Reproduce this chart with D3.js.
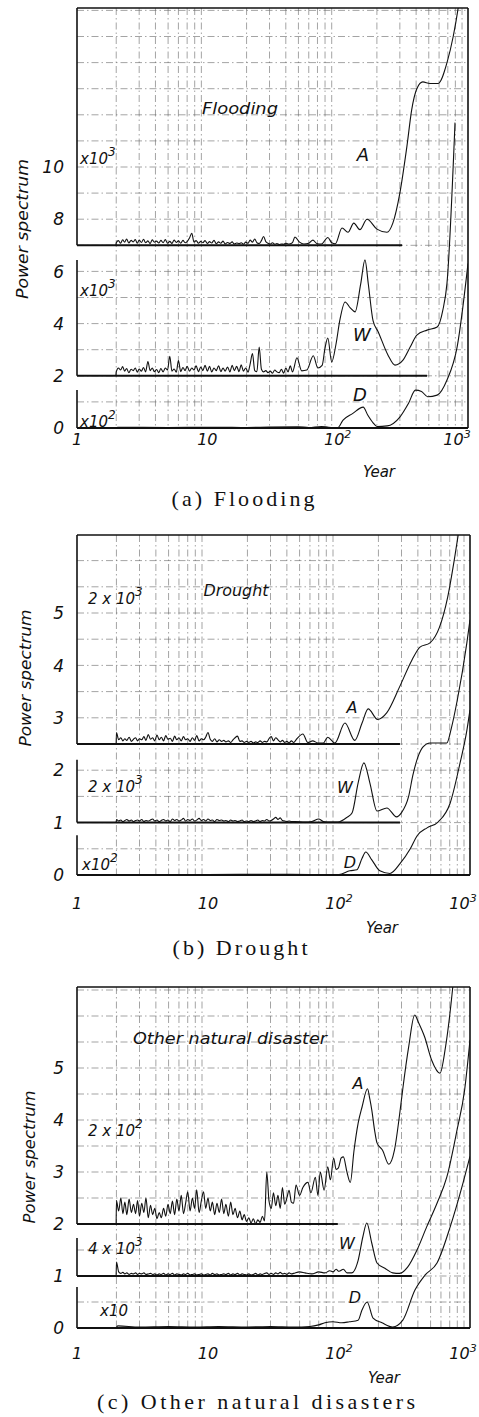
<!DOCTYPE html>
<html><head><meta charset="utf-8">
<script src="https://cdn.jsdelivr.net/npm/d3@7"></script>
<style>
html,body{margin:0;padding:0;background:#fff;}
svg{display:block;}
.it{font-family:"DejaVu Sans",sans-serif;font-style:italic;fill:#111;}
.cap{font-family:"Liberation Serif",serif;fill:#111;}
</style></head><body>
<svg id="chart" width="479" height="1417"></svg>
<script>
// ---------- DATA ----------
// shared period grid (years) of the noisy high-frequency part of the spectra
const NX = [2.0,2.08,2.16,2.24,2.32,2.4,2.5,2.6,2.7,2.8,
 2.9,3.0,3.12,3.24,3.36,3.5,3.64,3.78,3.92,4.08,
 4.24,4.4,4.58,4.76,4.95,5.15,5.35,5.56,5.78,6.0,
 6.25,6.5,6.75,7.0,7.3,7.6,7.9,8.2,8.55,8.9,
 9.25,9.6,10.0,10.4,10.8,11.25,11.7,12.2,12.7,13.2,
 13.7,14.3,14.9,15.5,16.1,16.8,17.5,18.2,18.9,19.7,
 20.5,21.3,22.2,23.1,24.0,25.0,26.0,27.0,28.1,29.2,
 30.4,31.6,32.9,34.2,35.6,37.0,38.5,40.0,41.6,43.3];

// (a) Flooding — values above each curve's own baseline
const floodBase = [7, 2, 0];
const floodA_noise = [0.10,0.18,0.08,0.21,0.12,0.24,0.09,0.19,0.13,0.22,
 0.08,0.2,0.11,0.23,0.1,0.17,0.07,0.21,0.12,0.16,
 0.09,0.19,0.1,0.22,0.08,0.15,0.07,0.2,0.11,0.17,
 0.08,0.19,0.1,0.14,0.28,0.46,0.12,0.18,0.08,0.15,
 0.1,0.18,0.07,0.14,0.09,0.19,0.06,0.13,0.08,0.16,
 0.05,0.11,0.07,0.13,0.05,0.09,0.06,0.1,0.04,0.12,
 0.08,0.2,0.12,0.24,0.1,0.07,0.18,0.34,0.14,0.08,
 0.05,0.1,0.04,0.07,0.03,0.05,0.04,0.08,0.05,0.06];
const floodA_tail = [[45,0.1],[47,0.32],[51,0.12],[55,0.05],[60,0.08],[64.6,0.2],[69,0.07],[75,0.05],[84,0.3],[90,0.1],[96,0.06],[108,0.66],[120,0.5],[133,0.85],[148,0.6],[168,1.0],[200,0.62],[239,0.5],[265,0.85],[300,2.0],[340,3.8],[370,5.2],[405,6.0],[450,6.26],[510,6.2],[590,6.2],[690,7.0],[770,8.0],[835,9.0],[900,10.2]];
const floodW_noise = [0.15,0.3,0.22,0.35,0.18,0.28,0.12,0.25,0.2,0.3,
 0.14,0.26,0.18,0.32,0.15,0.55,0.2,0.3,0.16,0.24,
 0.12,0.28,0.15,0.3,0.22,0.75,0.18,0.26,0.14,0.58,
 0.16,0.32,0.2,0.36,0.18,0.3,0.22,0.38,0.16,0.34,
 0.2,0.4,0.18,0.36,0.15,0.3,0.2,0.38,0.16,0.3,
 0.18,0.34,0.15,0.4,0.2,0.36,0.16,0.42,0.18,0.3,
 0.14,0.45,0.85,0.2,0.16,1.1,0.25,0.15,0.2,0.12,
 0.18,0.1,0.22,0.15,0.12,0.25,0.1,0.3,0.15,0.38];
const floodW_tail = [[45,0.15],[48.7,0.69],[53,0.19],[58,0.22],[65,0.77],[70.5,0.3],[76,0.4],[80,1.07],[84,1.45],[90,0.53],[97,1.2],[104,2.14],[114,2.83],[125,2.6],[136,2.45],[150,3.5],[162,4.44],[172,3.5],[187,2.1],[204,1.7],[243,0.8],[275,0.41],[317,0.6],[360,1.1],[405,1.56],[485,1.75],[580,1.87],[640,2.5],[690,3.55],[795,9.7]];
const floodD_tail = [[2.05,0.03],[5,0.02],[10,0.03],[20,0.02],[30,0.04],[50,0.05],[60,0.02],[75,0.06],[85,0.03],[100,0.01],[110,0.3],[130,0.55],[157,0.8],[170,0.5],[187,0.2],[200,0.06],[240,0.08],[300,0.42],[350,0.95],[395,1.45],[440,1.4],[490,1.2],[580,1.26],[690,1.84],[825,3.1],[1000,6.3]];

// (b) Drought
const droughtBase = [2.5, 1, 0];
const droughtA_noise = [0.22,0.08,0.12,0.06,0.1,0.07,0.13,0.05,0.09,0.12,
 0.06,0.1,0.08,0.14,0.07,0.18,0.09,0.12,0.06,0.17,
 0.08,0.13,0.06,0.16,0.09,0.11,0.05,0.15,0.08,0.12,
 0.06,0.14,0.08,0.1,0.05,0.12,0.07,0.16,0.06,0.1,
 0.08,0.13,0.22,0.09,0.05,0.1,0.04,0.08,0.05,0.07,
 0.04,0.06,0.03,0.08,0.12,0.15,0.05,0.06,0.03,0.05,
 0.03,0.05,0.02,0.04,0.03,0.06,0.03,0.05,0.04,0.1,
 0.14,0.06,0.12,0.08,0.04,0.07,0.03,0.05,0.02,0.06];
const droughtA_tail = [[45,0.03],[47.7,0.1],[53,0.19],[57.8,0.03],[63,0.06],[69,0.02],[76,0.02],[82,0.13],[93,0.02],[111,0.4],[132,0.07],[150,0.4],[167,0.67],[197,0.47],[232,0.6],[290,1.09],[360,1.6],[415,1.85],[495,1.93],[585,2.23],[675,2.8],[765,3.57],[850,4.3]];
const droughtW_noise = [0.06,0.03,0.05,0.02,0.04,0.06,0.03,0.05,0.02,0.04,
 0.05,0.03,0.06,0.02,0.04,0.03,0.05,0.07,0.03,0.05,
 0.02,0.04,0.06,0.03,0.05,0.02,0.07,0.04,0.06,0.03,
 0.05,0.08,0.03,0.06,0.04,0.07,0.03,0.05,0.08,0.04,
 0.06,0.03,0.07,0.04,0.05,0.02,0.06,0.04,0.05,0.03,
 0.04,0.02,0.05,0.03,0.04,0.02,0.03,0.05,0.02,0.03,
 0.02,0.04,0.02,0.03,0.05,0.02,0.04,0.03,0.06,0.03,
 0.04,0.07,0.1,0.06,0.09,0.04,0.03,0.02,0.03,0.02];
const droughtW_tail = [[46,0.02],[55,0.01],[62,0.02],[70,0.07],[76,0.02],[85,0.01],[98,0.01],[115,0.1],[126,0.19],[140,0.76],[155,1.14],[172,0.76],[195,0.22],[232,0.28],[275,0.11],[300,0.19],[340,0.5],[366,0.9],[400,1.25],[440,1.45],[495,1.52],[665,1.52],[720,1.8],[800,2.34],[945,3.42],[1000,3.87]];
const droughtD_tail = [[2.05,0.01],[10,0.01],[30,0.015],[60,0.01],[100,0.01],[121,0.08],[137,0.1],[150,0.32],[160,0.44],[178,0.29],[205,0.08],[245,0.03],[293,0.22],[350,0.5],[395,0.75],[470,0.9],[570,1.01],[705,1.37],[840,2.14],[945,2.75],[1000,3.15]];

// (c) Other natural disasters
const otherBase = [2, 1, 0];
const otherA_noise = [0.45,0.25,0.5,0.2,0.42,0.18,0.48,0.22,0.38,0.2,
 0.45,0.15,0.4,0.22,0.5,0.12,0.36,0.18,0.3,0.1,
 0.22,0.12,0.3,0.15,0.38,0.2,0.44,0.18,0.48,0.25,
 0.55,0.2,0.4,0.62,0.25,0.5,0.3,0.66,0.22,0.45,
 0.62,0.3,0.5,0.25,0.42,0.18,0.4,0.22,0.48,0.2,
 0.38,0.15,0.42,0.18,0.3,0.12,0.25,0.08,0.18,0.05,
 0.12,0.02,0.1,0.0,0.08,0.03,0.15,0.06,1.0,0.45,
 0.3,0.6,0.35,0.55,0.3,0.7,0.38,0.5,0.65,0.42];
const otherA_tail = [[45,0.4],[47,0.75],[50,0.55],[53,0.7],[58,0.8],[61,0.6],[66,0.9],[69,0.55],[72,1.0],[77,0.65],[82,1.1],[86,0.85],[91,1.27],[95,1.05],[99,1.08],[104,1.27],[108,1.29],[115,1.0],[122,0.8],[130,1.4],[140,1.94],[150,2.25],[165,2.6],[172,2.4],[178,2.19],[187,1.8],[195,1.56],[215,1.42],[240,1.15],[265,1.42],[290,2.1],[308,2.63],[340,3.4],[378,4.02],[405,3.87],[450,3.6],[510,3.15],[590,2.9],[650,3.4],[735,4.5],[800,5.5]];
const otherW_noise = [0.27,0.08,0.05,0.07,0.04,0.06,0.03,0.05,0.04,0.06,
 0.03,0.05,0.04,0.06,0.03,0.04,0.05,0.03,0.04,0.02,
 0.04,0.03,0.05,0.02,0.04,0.03,0.05,0.02,0.04,0.03,
 0.02,0.04,0.03,0.05,0.02,0.03,0.04,0.02,0.03,0.04,
 0.02,0.03,0.04,0.02,0.05,0.03,0.04,0.02,0.03,0.04,
 0.03,0.05,0.02,0.04,0.03,0.05,0.02,0.04,0.03,0.02,
 0.04,0.02,0.03,0.05,0.02,0.04,0.03,0.05,0.06,0.03,
 0.05,0.03,0.06,0.04,0.07,0.04,0.05,0.03,0.06,0.04];
const otherW_tail = [[45,0.05],[50,0.08],[55,0.06],[62,0.04],[70,0.08],[78,0.06],[85,0.1],[90,0.08],[95,0.13],[100,0.09],[108,0.13],[115,0.06],[125,0.06],[140,0.3],[152,0.75],[163,1.02],[178,0.63],[195,0.25],[224,0.15],[257,0.06],[290,0.05],[334,0.17],[394,0.5],[466,0.94],[560,1.4],[665,1.9],[795,2.8],[910,3.58],[1000,4.54]];
const otherD_tail = [[2.05,0.04],[3,0.02],[5,0.03],[8,0.02],[12,0.03],[20,0.02],[30,0.03],[45,0.02],[60,0.03],[70,0.06],[78,0.1],[90,0.12],[105,0.1],[120,0.12],[140,0.15],[150,0.35],[164,0.5],[182,0.19],[213,0.1],[257,0.02],[307,0.15],[380,0.73],[455,1.02],[560,1.25],[705,1.94],[885,2.79],[1000,3.3]];

const seriesNames = ["A", "W", "D"];
const xTickValues = [1, 10, 100, 1000];
const xTickExp = ["", "", "2", "3"];
const gridX = [2,3,4,5,6,7,8,9,20,30,40,50,60,70,80,90,200,300,400,500,600,700,800,900];
const floodYTicks = [0, 2, 4, 6, 8, 10];
const droughtYTicks = [0, 1, 2, 3, 4, 5];
const otherYTicks = [0, 1, 2, 3, 4, 5];
const floodScaleLabels = [["x10","3"], ["x10","3"], ["x10","2"]];
const droughtScaleLabels = [["2 x 10","3"], ["2 x 10","3"], ["x10","2"]];
const otherScaleLabels = [["2 x 10","2"], ["4 x 10","3"], ["x10",""]];
const baselineEnds = { a: [312, 485, 1000], b: [292, 292, 1000], c: [98, 360, 1000] };
// left-axis segments [from value, to value] per curve block
const axisSegs = { a: [[7, 99], [2, 6.44], [0, 1.46]], b: [[2.5, 99], [1, 2.2], [0, 0.76]], c: [[2, 99], [1, 1.73], [0, 0.79]] };

function build(noise, tail) {
  const pts = [[1.99, 0]];
  if (noise) NX.forEach((x, i) => { if (i < noise.length) pts.push([x, noise[i]]); });
  tail.forEach(p => pts.push(p));
  return pts;
}

// ---------- LAYOUT ----------
const panels = [
  { id: "a", x0: 77, x1: 468, top: 8, bottom: 428, ppu: 26.1, gridStep: 1,
    yTicks: floodYTicks, base: floodBase,
    series: [build(floodA_noise, floodA_tail), build(floodW_noise, floodW_tail), build(null, floodD_tail)],
    scaleLabels: floodScaleLabels, scaleLabelPos: [[80,164],[80,296],[80,427]], scaleFont: 15,
    letterPos: [[363,161],[362,341],[360,401]], letterFont: 18,
    title: "Flooding", titlePos: [240,114], titleW: 76,
    ylabelPos: [22,229], ylabelLen: 140,
    xLabY: 445, lastTickX: 457, yearPos: [379,477],
    caption: "(a) Flooding", capPos: [243,506], capW: 143 },
  { id: "b", x0: 77, x1: 470, top: 535, bottom: 875, ppu: 52.4, gridStep: 0.5,
    yTicks: droughtYTicks, base: droughtBase,
    series: [build(droughtA_noise, droughtA_tail), build(droughtW_noise, droughtW_tail), build(null, droughtD_tail)],
    scaleLabels: droughtScaleLabels, scaleLabelPos: [[88,604],[88,792],[82,870]], scaleFont: 15,
    letterPos: [[352,713],[345,793],[350,868]], letterFont: 16,
    title: "Drought", titlePos: [236,596], titleW: 65,
    ylabelPos: [25,678], ylabelLen: 137,
    xLabY: 909, lastTickX: 463, yearPos: [382,933],
    caption: "(b) Drought", capPos: [240,955], capW: 135 },
  { id: "c", x0: 77, x1: 470, top: 987, bottom: 1328, ppu: 52, gridStep: 0.5,
    yTicks: otherYTicks, base: otherBase,
    series: [build(otherA_noise, otherA_tail), build(otherW_noise, otherW_tail), build(null, otherD_tail)],
    scaleLabels: otherScaleLabels, scaleLabelPos: [[88,1136],[88,1254],[100,1316]], scaleFont: 15,
    letterPos: [[358,1089],[347,1249],[355,1303]], letterFont: 16,
    title: "Other natural disaster", titlePos: [230,1044], titleW: 194,
    ylabelPos: [29,1157], ylabelLen: 133,
    xLabY: 1359, lastTickX: 463, yearPos: [384,1383],
    caption: "(c) Other natural disasters", capPos: [256,1409], capW: 318 }
];

const svg = d3.select("#chart");
svg.append("rect").attr("width", 479).attr("height", 1417).attr("fill", "#fff");

panels.forEach(p => {
  const x = d3.scaleLog().domain([1, 1000]).range([p.x0, p.x1]);
  const yMax = (p.bottom - p.top) / p.ppu;
  const y = d3.scaleLinear().domain([0, yMax]).range([p.bottom, p.top]);
  const g = svg.append("g");

  // clip
  const cid = "clip-" + p.id;
  svg.append("clipPath").attr("id", cid).append("rect")
    .attr("x", p.x0).attr("y", p.top).attr("width", p.x1 - p.x0).attr("height", p.bottom - p.top + 1);

  // grid
  const grid = g.append("g").attr("stroke", "#666").attr("stroke-width", 0.6)
    .attr("stroke-dasharray", "7,3,1.5,3").attr("fill", "none");
  gridX.forEach(v => grid.append("line").attr("x1", x(v)).attr("x2", x(v)).attr("y1", p.top).attr("y2", p.bottom));
  d3.range(p.gridStep, yMax, p.gridStep).forEach(v =>
    grid.append("line").attr("x1", p.x0).attr("x2", p.x1).attr("y1", y(v)).attr("y2", y(v)));

  // frame: top, right
  g.append("line").attr("x1", p.x0).attr("x2", p.x1).attr("y1", p.top).attr("y2", p.top)
    .attr("stroke", "#111").attr("stroke-width", 1.6);
  g.append("line").attr("x1", p.x1).attr("x2", p.x1).attr("y1", p.top).attr("y2", p.bottom)
    .attr("stroke", "#111").attr("stroke-width", 1.6);

  // left axis segments
  axisSegs[p.id].forEach(s => {
    g.append("line").attr("x1", p.x0).attr("x2", p.x0)
      .attr("y1", y(s[0])).attr("y2", y(Math.min(s[1], yMax)))
      .attr("stroke", "#111").attr("stroke-width", 1.6);
  });

  // baselines
  p.base.forEach((b, i) => {
    g.append("line").attr("x1", p.x0).attr("x2", x(baselineEnds[p.id][i]))
      .attr("y1", y(b)).attr("y2", y(b)).attr("stroke", "#111").attr("stroke-width", 2);
  });

  // curves
  const cg = g.append("g").attr("clip-path", "url(#" + cid + ")");
  p.series.forEach((pts, i) => {
    const b = p.base[i];
    const line = d3.line().x(d => x(d[0])).y(d => y(b + d[1])).curve(d3.curveMonotoneX);
    cg.append("path").attr("d", line(pts)).attr("fill", "none")
      .attr("stroke", "#111").attr("stroke-width", 1.1).attr("stroke-linejoin", "round");
  });

  // y tick labels
  p.yTicks.forEach(v => {
    g.append("text").attr("class", "it").attr("x", 64).attr("y", y(v)).attr("dy", "0.36em")
      .attr("text-anchor", "end").attr("font-size", 17).text(v);
  });

  // x tick labels
  xTickValues.forEach((v, i) => {
    const cx = i === 3 ? p.lastTickX : x(v);
    const t = g.append("text").attr("class", "it").attr("x", cx).attr("y", p.xLabY)
      .attr("text-anchor", "middle").attr("font-size", 16);
    t.append("tspan").text(v === 1 ? "1" : "10");
    if (xTickExp[i]) t.append("tspan").attr("dy", -7).attr("font-size", 11).text(xTickExp[i]);
  });

  // Year
  g.append("text").attr("class", "it").attr("x", p.yearPos[0]).attr("y", p.yearPos[1])
    .attr("text-anchor", "middle").attr("font-size", 15).text("Year");

  // y label
  g.append("text").attr("class", "it")
    .attr("transform", `translate(${p.ylabelPos[0]},${p.ylabelPos[1]}) rotate(-90)`)
    .attr("text-anchor", "middle").attr("dy", "0.35em").attr("font-size", 16.5)
    .attr("textLength", p.ylabelLen).attr("lengthAdjust", "spacingAndGlyphs").text("Power spectrum");

  // scale factor labels
  p.scaleLabels.forEach((s, i) => {
    const t = g.append("text").attr("class", "it").attr("x", p.scaleLabelPos[i][0]).attr("y", p.scaleLabelPos[i][1])
      .attr("font-size", p.scaleFont);
    t.append("tspan").text(s[0]);
    if (s[1]) t.append("tspan").attr("dy", -8).attr("font-size", 12).text(s[1]);
  });

  // series letters
  seriesNames.forEach((n, i) => {
    g.append("text").attr("class", "it").attr("x", p.letterPos[i][0]).attr("y", p.letterPos[i][1])
      .attr("text-anchor", "middle").attr("font-size", p.letterFont).text(n);
  });

  // title inside
  g.append("text").attr("class", "it").attr("x", p.titlePos[0]).attr("y", p.titlePos[1])
    .attr("text-anchor", "middle").attr("font-size", 16)
    .attr("textLength", p.titleW).attr("lengthAdjust", "spacingAndGlyphs").text(p.title);

  // caption
  svg.append("text").attr("class", "cap").attr("x", p.capPos[0]).attr("y", p.capPos[1])
    .attr("text-anchor", "middle").attr("font-size", 22)
    .attr("textLength", p.capW).attr("lengthAdjust", "spacing").text(p.caption);
});
</script>
</body></html>
